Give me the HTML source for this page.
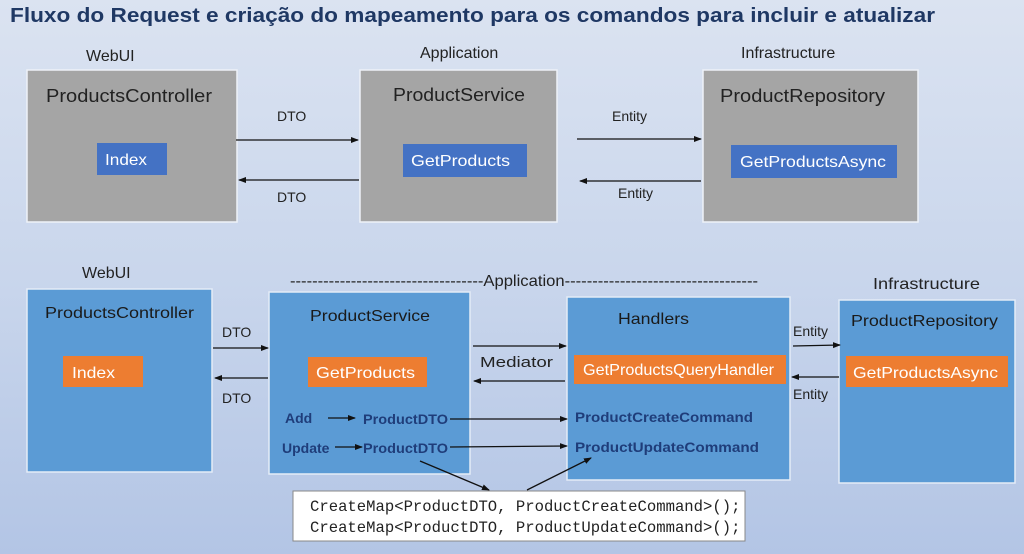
<!DOCTYPE html>
<html><head><meta charset="utf-8"><style>
html,body{margin:0;padding:0}
body{width:1024px;height:554px;overflow:hidden;background:linear-gradient(180deg,#dbe3f1 0%,#c9d6ec 50%,#b3c5e5 100%);font-family:"Liberation Sans",sans-serif}
svg{position:absolute;left:0;top:0}
</style></head><body>
<svg width="1024" height="554" viewBox="0 0 1024 554" font-family="Liberation Sans, sans-serif">
<defs>
<marker id="a" markerWidth="8" markerHeight="8" refX="7" refY="4" orient="auto" markerUnits="userSpaceOnUse"><path d="M0,1 L8,4 L0,7 z" fill="#111"/></marker>
</defs>
<text x="10" y="22" font-size="20" font-weight="bold" fill="#1f3864" textLength="925" lengthAdjust="spacingAndGlyphs">Fluxo do Request e criação do mapeamento para os comandos para incluir e atualizar</text>

<!-- top row -->
<g font-size="16" fill="#222">
<text x="86" y="61">WebUI</text><text x="420" y="58">Application</text><text x="741" y="58">Infrastructure</text>
</g>
<g fill="#a5a5a5" stroke="#eef2f8" stroke-width="1.5">
<rect x="27" y="70" width="210" height="152"/><rect x="360" y="70" width="197" height="152"/><rect x="703" y="70" width="215" height="152"/>
</g>
<g font-size="18" fill="#222" lengthAdjust="spacingAndGlyphs">
<text x="46" y="102" textLength="166" lengthAdjust="spacingAndGlyphs">ProductsController</text><text x="393" y="101" textLength="132" lengthAdjust="spacingAndGlyphs">ProductService</text><text x="720" y="102" textLength="165" lengthAdjust="spacingAndGlyphs">ProductRepository</text>
</g>
<g fill="#4472c4"><rect x="97" y="143" width="70" height="32"/><rect x="403" y="144" width="124" height="33"/><rect x="731" y="145" width="166" height="33"/></g>
<g font-size="16" fill="#fff"><text x="105" y="165" textLength="42" lengthAdjust="spacingAndGlyphs">Index</text><text x="411" y="166" textLength="99" lengthAdjust="spacingAndGlyphs">GetProducts</text><text x="740" y="167" textLength="146" lengthAdjust="spacingAndGlyphs">GetProductsAsync</text></g>
<g stroke="#111" stroke-width="1.3" marker-end="url(#a)">
<line x1="236" y1="140" x2="358" y2="140"/><line x1="359" y1="180" x2="239" y2="180"/>
<line x1="577" y1="139" x2="701" y2="139"/><line x1="701" y1="181" x2="580" y2="181"/>
</g>
<g font-size="14" fill="#222"><text x="277" y="121">DTO</text><text x="277" y="202">DTO</text><text x="612" y="121">Entity</text><text x="618" y="198">Entity</text></g>

<!-- bottom row -->
<g font-size="16" fill="#222">
<text x="82" y="278">WebUI</text><text x="873" y="289" textLength="107" lengthAdjust="spacingAndGlyphs">Infrastructure</text>
<text x="290" y="286" textLength="468" lengthAdjust="spacingAndGlyphs">-----------------------------------Application-----------------------------------</text>
</g>
<g fill="#5b9bd5" stroke="#e4ecf7" stroke-width="1.5">
<rect x="27" y="289" width="185" height="183"/><rect x="269" y="292" width="201" height="182"/><rect x="567" y="297" width="223" height="183"/><rect x="839" y="300" width="176" height="183"/>
</g>
<g font-size="16" fill="#1a1a1a">
<text x="45" y="318" textLength="149" lengthAdjust="spacingAndGlyphs">ProductsController</text><text x="310" y="321" textLength="120" lengthAdjust="spacingAndGlyphs">ProductService</text><text x="618" y="324" textLength="71" lengthAdjust="spacingAndGlyphs">Handlers</text><text x="851" y="326" textLength="147" lengthAdjust="spacingAndGlyphs">ProductRepository</text>
</g>
<g fill="#ed7d31"><rect x="63" y="356" width="80" height="31"/><rect x="308" y="357" width="119" height="30"/><rect x="574" y="355" width="212" height="29"/><rect x="846" y="356" width="162" height="31"/></g>
<g font-size="16" fill="#fff"><text x="72" y="378" textLength="43" lengthAdjust="spacingAndGlyphs">Index</text><text x="316" y="378" textLength="99" lengthAdjust="spacingAndGlyphs">GetProducts</text><text x="583" y="375" textLength="191" lengthAdjust="spacingAndGlyphs">GetProductsQueryHandler</text><text x="853" y="378" textLength="145" lengthAdjust="spacingAndGlyphs">GetProductsAsync</text></g>
<g stroke="#111" stroke-width="1.3" marker-end="url(#a)">
<line x1="213" y1="348" x2="268" y2="348"/><line x1="268" y1="378" x2="215" y2="378"/>
<line x1="473" y1="346" x2="566" y2="346"/><line x1="565" y1="381" x2="474" y2="381"/>
<line x1="793" y1="346" x2="840" y2="345"/><line x1="839" y1="377" x2="792" y2="377"/>
<line x1="328" y1="418" x2="355" y2="418"/><line x1="335" y1="447" x2="362" y2="447"/>
<line x1="450" y1="419" x2="567" y2="419"/><line x1="450" y1="447" x2="567" y2="446"/>
<line x1="420" y1="461" x2="489" y2="490"/><line x1="527" y1="490" x2="591" y2="458"/>
</g>
<g font-size="14" fill="#222"><text x="222" y="337">DTO</text><text x="222" y="403">DTO</text><text x="480" y="367" font-size="15" textLength="73" lengthAdjust="spacingAndGlyphs">Mediator</text><text x="793" y="336">Entity</text><text x="793" y="399">Entity</text></g>
<g font-size="14" font-weight="bold" fill="#1f3d7a">
<text x="285" y="423">Add</text><text x="282" y="453">Update</text>
<text x="363" y="424" textLength="85" lengthAdjust="spacingAndGlyphs">ProductDTO</text><text x="363" y="453" textLength="85" lengthAdjust="spacingAndGlyphs">ProductDTO</text>
<text x="575" y="422" textLength="178" lengthAdjust="spacingAndGlyphs">ProductCreateCommand</text><text x="575" y="452" textLength="184" lengthAdjust="spacingAndGlyphs">ProductUpdateCommand</text>
</g>
<rect x="293" y="491" width="452" height="50" fill="#fff" stroke="#888" stroke-width="1"/>
<g font-family="Liberation Mono, monospace" font-size="15.6" fill="#222">
<text x="310" y="511">CreateMap&lt;ProductDTO, ProductCreateCommand&gt;();</text>
<text x="310" y="532">CreateMap&lt;ProductDTO, ProductUpdateCommand&gt;();</text>
</g>
</svg>
</body></html>
